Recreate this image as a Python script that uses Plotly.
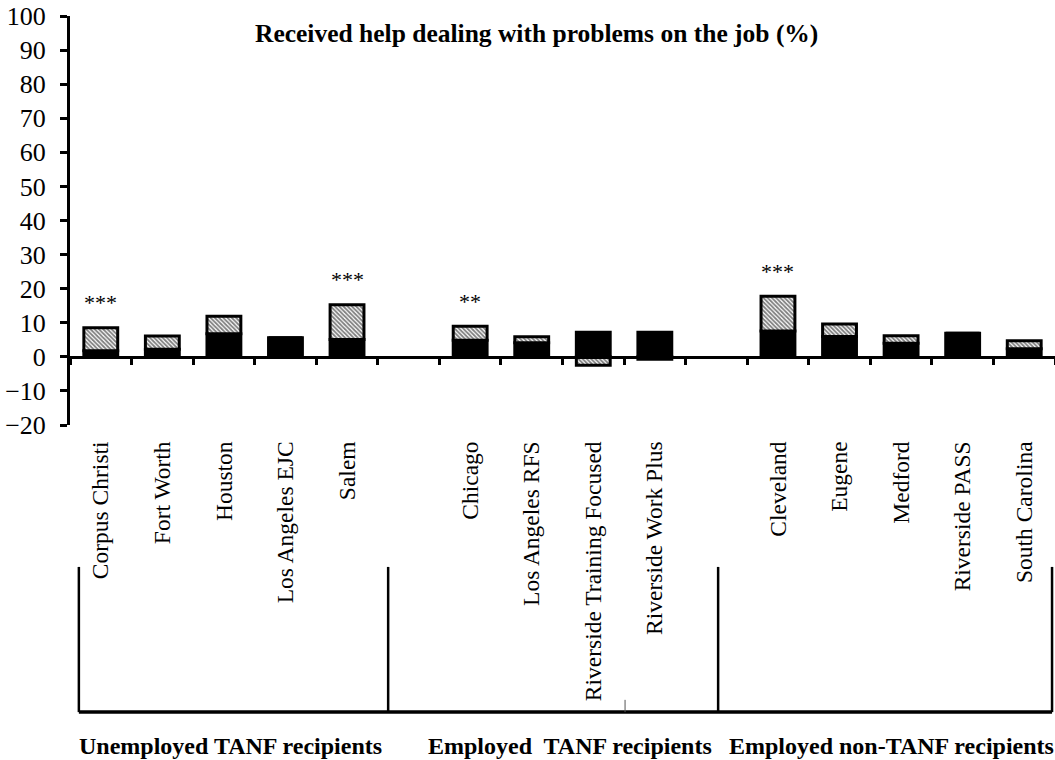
import plotly.graph_objects as go

# ---- data ----
categories = ["Corpus Christi", "Fort Worth", "Houston", "Los Angeles EJC", "Salem", " ",
              "Chicago", "Los Angeles RFS", "Riverside Training Focused", "Riverside Work Plus", "  ",
              "Cleveland", "Eugene", "Medford", "Riverside PASS", "South Carolina"]
base_values = [1.8, 2.2, 6.8, 5.6, 5.1, None,
               4.9, 4.1, 7.2, 7.2, None,
               7.6, 6.0, 4.0, 6.9, 2.4]
impact_values = [6.7, 3.9, 5.1, 0.0, 10.2, None,
                 4.1, 1.8, -2.5, -0.7, None,
                 10.2, 3.6, 2.2, 0.0, 2.3]
significance = ["***", "", "", "", "***", "",
                "**", "", "", "", "",
                "***", "", "", "", ""]
group_labels = ["Unemployed TANF recipients", "Employed  TANF recipients", "Employed non-TANF recipients"]
y_ticks = list(range(-20, 101, 10))
title_text = "Received help dealing with problems on the job (%)"

FONT = "Liberation Serif"

fig = go.Figure()
fig.add_trace(go.Bar(
    x=categories, y=base_values, name="base",
    marker=dict(color="black", line=dict(color="black", width=3)),
    width=0.55, showlegend=False, hoverinfo="skip"))
fig.add_trace(go.Bar(
    x=categories, y=impact_values, name="impact",
    marker=dict(color="white", line=dict(color="black", width=3),
                pattern=dict(shape="\\", fgcolor="black", bgcolor="white",
                             size=3, solidity=0.6)),
    width=0.55, showlegend=False, hoverinfo="skip"))

# invisible trace for the label axis
fig.add_trace(go.Scatter(x=categories, y=[0] * len(categories), xaxis="x2",
                         mode="markers", marker=dict(opacity=0),
                         showlegend=False, hoverinfo="skip"))

# significance stars
for c, b, i, s in zip(categories, base_values, impact_values, significance):
    if s:
        top = (b or 0) + max(i or 0, 0)
        fig.add_annotation(x=c, y=top, text=s, showarrow=False, yanchor="middle",
                           yshift=25, font=dict(family=FONT, size=22, color="black"))

# title
fig.add_annotation(x=0.474, y=0.958, xref="paper", yref="paper", text="<b>%s</b>" % title_text,
                   xanchor="center", yanchor="middle",
                   showarrow=False, font=dict(family=FONT, size=25.5, color="black"))

# group labels
for gx, g in zip([0.163, 0.508, 0.834], group_labels):
    fig.add_annotation(x=gx, y=-0.785, xref="paper", yref="paper", text="<b>%s</b>" % g,
                       xanchor="center", yanchor="middle",
                       showarrow=False, font=dict(family=FONT, size=24, color="black"))

# bracket lines
shapes = []
for bx in [0.009, 0.323, 0.658, 0.997]:
    shapes.append(dict(type="line", xref="paper", yref="paper", x0=bx, x1=bx,
                       y0=-0.347, y1=-0.702, line=dict(color="black", width=2.5)))
shapes.append(dict(type="line", xref="paper", yref="paper", x0=0.009, x1=0.997,
                   y0=-0.702, y1=-0.702, line=dict(color="black", width=3.5)))
shapes.append(dict(type="line", xref="paper", yref="paper", x0=0.5635, x1=0.5635,
                   y0=-0.672, y1=-0.702, line=dict(color="#555555", width=1)))

fig.update_layout(
    width=1055, height=760,
    margin=dict(l=70, r=0, t=16, b=335),
    paper_bgcolor="white", plot_bgcolor="white",
    barmode="relative", bargap=0.45,
    font=dict(family=FONT, color="black"),
    shapes=shapes,
    xaxis=dict(type="category", categoryorder="array", categoryarray=categories,
               range=[-0.5, len(categories) - 0.5],
               anchor="free", position=1 / 6, automargin=False,
               showline=True, linecolor="black", linewidth=3,
               ticks="outside", tickson="boundaries", ticklen=6, tickwidth=2.5, tickcolor="black",
               showticklabels=False, showgrid=False, zeroline=False),
    xaxis2=dict(type="category", categoryorder="array", categoryarray=categories,
                range=[-0.5, len(categories) - 0.5],
                overlaying="x", anchor="y", side="bottom", automargin=False,
                showline=False, showgrid=False, zeroline=False,
                ticks="outside", ticklen=6, tickcolor="rgba(0,0,0,0)",
                tickangle=-90, tickfont=dict(family=FONT, size=23.5, color="black")),
    yaxis=dict(range=[-20, 100], tickvals=y_ticks, showgrid=False, zeroline=False,
               automargin=False, ticklabeloverflow="allow",
               showline=True, linecolor="black", linewidth=3,
               ticks="outside", ticklen=7, tickwidth=2.5, tickcolor="black",
               ticklabelstandoff=9,
               tickfont=dict(family=FONT, size=26, color="black")),
)

# remove the default page margin so the figure fills the window exactly
fig.write_html("out.html", config={"displayModeBar": False},
               post_script="document.body.style.margin='0';document.body.style.overflow='hidden';")
